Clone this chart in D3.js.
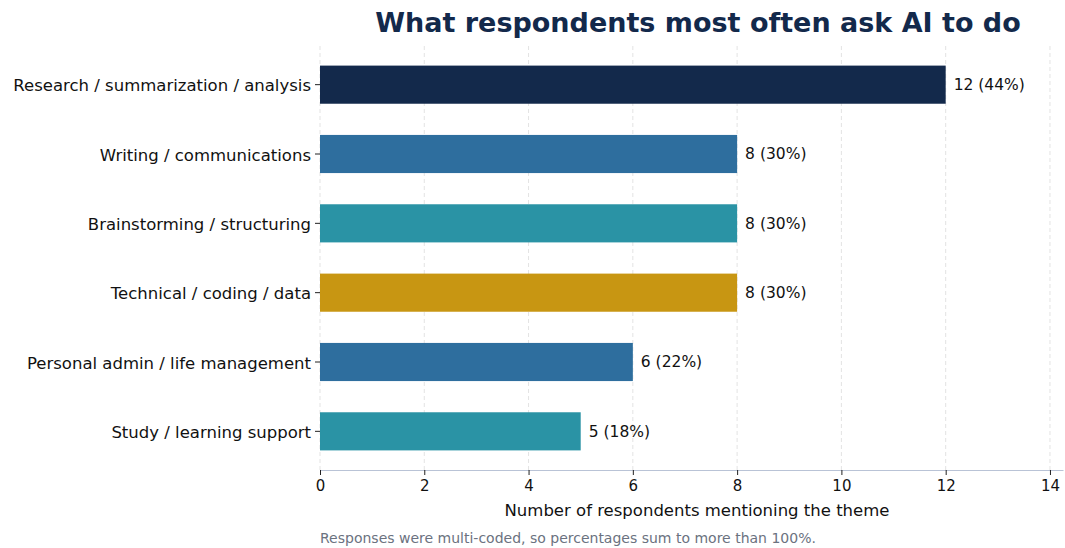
<!DOCTYPE html>
<html>
<head>
<meta charset="utf-8">
<script src="https://cdn.jsdelivr.net/npm/d3@7"></script>
<style>
  html, body { margin: 0; padding: 0; background: #fff; }
  svg { display: block; font-family: "DejaVu Sans", sans-serif; }
</style>
</head>
<body>
<svg id="chart" width="1065" height="548"></svg>
<script>
// Themes and respondent counts (27 respondents in total)
const themes = [
  "Research / summarization / analysis",
  "Writing / communications",
  "Brainstorming / structuring",
  "Technical / coding / data",
  "Personal admin / life management",
  "Study / learning support"
];
const counts = [12, 8, 8, 8, 6, 5];
const shares = [44, 30, 30, 30, 22, 18];
const barColors = ["#13294b", "#2e6e9e", "#2a93a5", "#c89612", "#2e6e9e", "#2a93a5"];
const xTicks = [0, 2, 4, 6, 8, 10, 12, 14];

const svg = d3.select("#chart");
const margin = { left: 320, right: 2, top: 46, bottom: 470 };

const x = d3.scaleLinear().domain([0, 14.25]).range([margin.left, 1065 - margin.right]);
const y = d3.scaleBand().domain(themes).range([50, 466]).paddingInner(0.45).paddingOuter(0.225);

// Vertical dashed grid
svg.append("g")
  .selectAll("line")
  .data(xTicks)
  .join("line")
  .attr("x1", d => x(d)).attr("x2", d => x(d))
  .attr("y1", margin.top).attr("y2", margin.bottom)
  .attr("stroke", "#e3e3e3")
  .attr("stroke-width", 1)
  .attr("stroke-dasharray", "4,3");

// Bars
svg.append("g")
  .selectAll("rect")
  .data(themes)
  .join("rect")
  .attr("x", x(0))
  .attr("y", d => y(d))
  .attr("width", (d, i) => x(counts[i]) - x(0))
  .attr("height", y.bandwidth())
  .attr("fill", (d, i) => barColors[i]);

// Value labels
svg.append("g")
  .selectAll("text")
  .data(themes)
  .join("text")
  .attr("x", (d, i) => x(counts[i]) + 8)
  .attr("y", d => y(d) + y.bandwidth() / 2)
  .attr("dy", "0.35em")
  .attr("font-size", 15.5)
  .attr("fill", "#111")
  .text((d, i) => `${counts[i]} (${shares[i]}%)`);

// X axis
const xAxis = svg.append("g")
  .attr("transform", `translate(0,${margin.bottom})`)
  .call(d3.axisBottom(x).tickValues(xTicks).tickSize(5).tickPadding(5).tickSizeOuter(0));
xAxis.select(".domain").attr("stroke", "#b9c3d6").attr("stroke-width", 1.2);
xAxis.selectAll(".tick line").attr("stroke", "#222");
xAxis.selectAll(".tick text").attr("font-size", 15).attr("fill", "#111")
  .attr("font-family", "DejaVu Sans, sans-serif");

// Y axis (ticks and labels, no spine)
const yAxis = svg.append("g")
  .attr("transform", `translate(${margin.left},0)`)
  .call(d3.axisLeft(y).tickSize(5).tickPadding(4));
yAxis.select(".domain").remove();
yAxis.selectAll(".tick line").attr("stroke", "#222");
yAxis.selectAll(".tick text").attr("font-size", 16.5).attr("fill", "#111")
  .attr("dy", "0.4em")
  .attr("font-family", "DejaVu Sans, sans-serif");

// Axis title
svg.append("text")
  .attr("x", 697).attr("y", 516)
  .attr("text-anchor", "middle")
  .attr("font-size", 16.5)
  .attr("fill", "#111")
  .text("Number of respondents mentioning the theme");

// Chart title
svg.append("text")
  .attr("x", 698).attr("y", 32)
  .attr("text-anchor", "middle")
  .attr("font-size", 27)
  .attr("font-weight", "bold")
  .attr("fill", "#13294b")
  .text("What respondents most often ask AI to do");

// Footnote
svg.append("text")
  .attr("x", 320).attr("y", 543)
  .attr("font-size", 14)
  .attr("fill", "#6b7280")
  .text("Responses were multi-coded, so percentages sum to more than 100%.");
</script>
</body>
</html>
